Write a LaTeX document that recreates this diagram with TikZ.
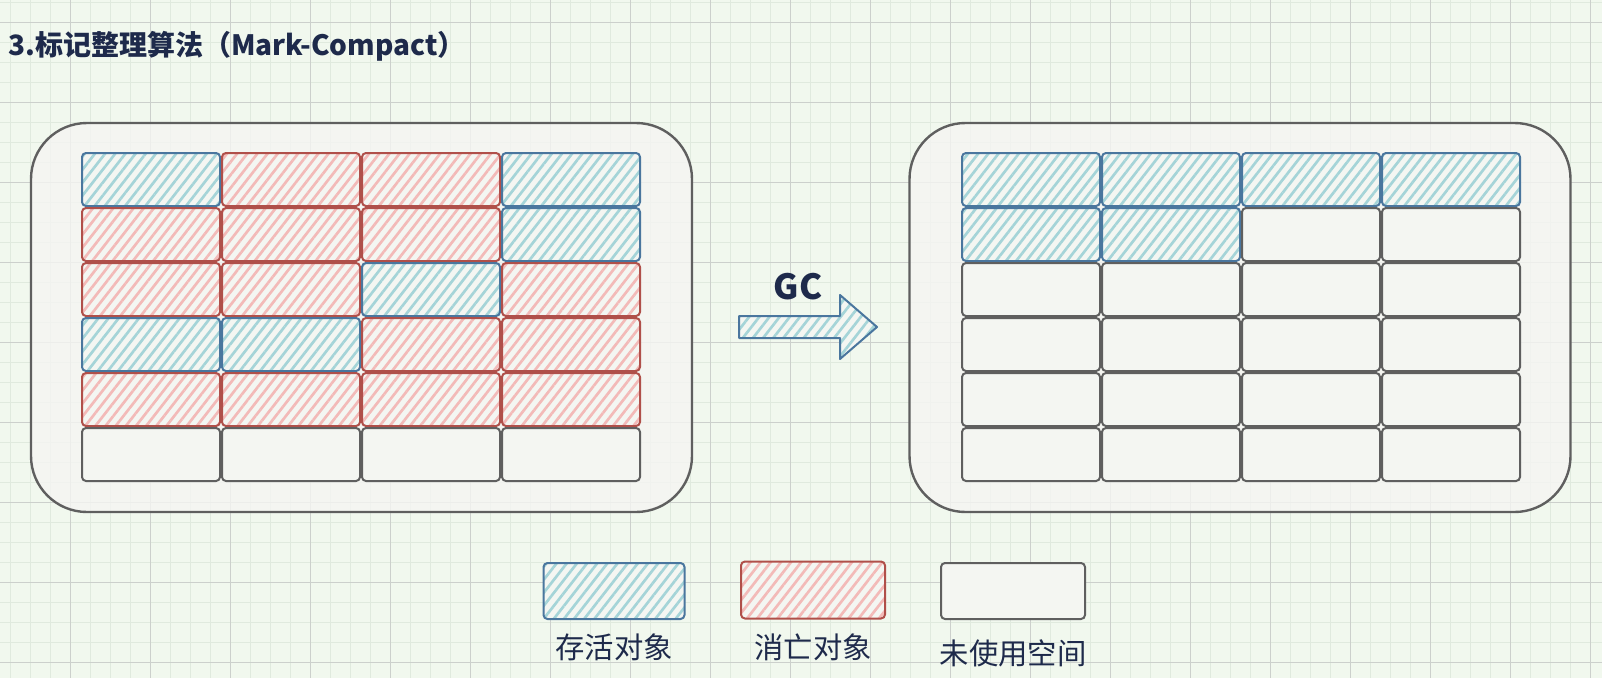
\documentclass[tikz,border=0pt]{standalone}
\usepackage{fontspec}
\newfontfamily\cjk{Noto Sans CJK SC}
\usetikzlibrary{positioning,patterns.meta}
\definecolor{paper}{RGB}{241,248,238}
\definecolor{minorln}{RGB}{224,234,222}
\definecolor{majorln}{RGB}{204,208,204}
\definecolor{boxbg}{RGB}{245,245,242}
\definecolor{cellbg}{RGB}{244,246,242}
\definecolor{frameln}{RGB}{95,95,95}
\definecolor{liveln}{RGB}{74,118,158}
\definecolor{livehatch}{RGB}{165,212,216}
\definecolor{deadln}{RGB}{176,80,74}
\definecolor{deadhatch}{RGB}{243,186,184}
\definecolor{ink}{RGB}{30,42,75}

\begin{document}
\begin{tikzpicture}[x=0.75pt, y=-0.75pt,
    cell/.style={rectangle, line width=1.5pt, rounded corners=3pt, minimum width=103.5pt, minimum height=39.75pt, inner sep=0pt},
    live/.style={cell, draw=liveln, preaction={fill=cellbg}, pattern={Lines[angle=52,distance=6pt,line width=2pt]}, pattern color=livehatch},
    dead/.style={cell, draw=deadln, preaction={fill=cellbg}, pattern={Lines[angle=52,distance=6pt,line width=2pt]}, pattern color=deadhatch},
    free/.style={cell, draw=frameln, fill=cellbg},
    heap/.style={rectangle, draw=frameln, line width=1.8pt, rounded corners=42pt, fill=boxbg, fill opacity=0.8, minimum width=495.75pt, minimum height=291.75pt},
    legtext/.style={font=\cjk\fontsize{22}{26}\selectfont, text=ink}]

    % paper with grid
    \fill[paper] (0,0) rectangle (1602,678);
    \useasboundingbox (0,0) rectangle (1602,678);
    \foreach \gx in {10,30,...,1610} \draw[minorln, line width=0.6pt] (\gx,0) -- (\gx,678);
    \foreach \gy in {2,22,...,682} \draw[minorln, line width=0.6pt] (0,\gy) -- (1602,\gy);
    \foreach \gx in {-10,70,...,1610} \draw[majorln, line width=0.6pt] (\gx,0) -- (\gx,678);
    \foreach \gy in {22,102,...,662} \draw[majorln, line width=0.6pt] (0,\gy) -- (1602,\gy);

    % Title
    \node[anchor=west, font=\cjk\bfseries\fontsize{21}{25}\selectfont, text=ink, inner sep=0pt] (title) at (8,46) {3.标记整理算法（Mark-Compact）};

    % Heap before GC
    \node[heap] (before) at (361.5,317.5) {};
    \foreach \row/\kinds in {1/{live,dead,dead,live}, 2/{dead,dead,dead,live}, 3/{dead,dead,live,dead},
                             4/{live,live,dead,dead}, 5/{dead,dead,dead,dead}, 6/{free,free,free,free}}
      \foreach \kind [count=\col] in \kinds
        \node[\kind] (b\row\col) at ({11+140*\col},{124.5+55*\row}) {};

    % Heap after GC
    \node[heap] (after) at (1240,317.5) {};
    \foreach \row/\kinds in {1/{live,live,live,live}, 2/{live,live,free,free}, 3/{free,free,free,free},
                             4/{free,free,free,free}, 5/{free,free,free,free}, 6/{free,free,free,free}}
      \foreach \kind [count=\col] in \kinds
        \node[\kind] (a\row\col) at ({891+140*\col},{124.5+55*\row}) {};

    % GC arrow
    \draw[liveln, line width=1.5pt, line join=round, preaction={fill=cellbg},
          pattern={Lines[angle=52,distance=6pt,line width=2pt]}, pattern color=livehatch]
        (739,316) -- (840,316) -- (840,295) -- (877,327) -- (840,359) -- (840,338) -- (739,338) -- cycle;
    \node[font=\cjk\bfseries\fontsize{26}{30}\selectfont, text=ink] (gclabel) at (798,287) {GC};

    % Legend
    \node[live, minimum width=105.75pt, minimum height=42pt] (leglive) at (614,591) {};
    \node[dead, minimum width=108pt, minimum height=42.75pt] (legdead) at (813,590) {};
    \node[free, minimum width=108pt, minimum height=42pt] (legfree) at (1013,591) {};
    \node[legtext, below=7pt of leglive] (txtlive) {存活对象};
    \node[legtext, below=7pt of legdead] (txtdead) {消亡对象};
    \node[legtext, below=11pt of legfree] (txtfree) {未使用空间};
\end{tikzpicture}
\end{document}
